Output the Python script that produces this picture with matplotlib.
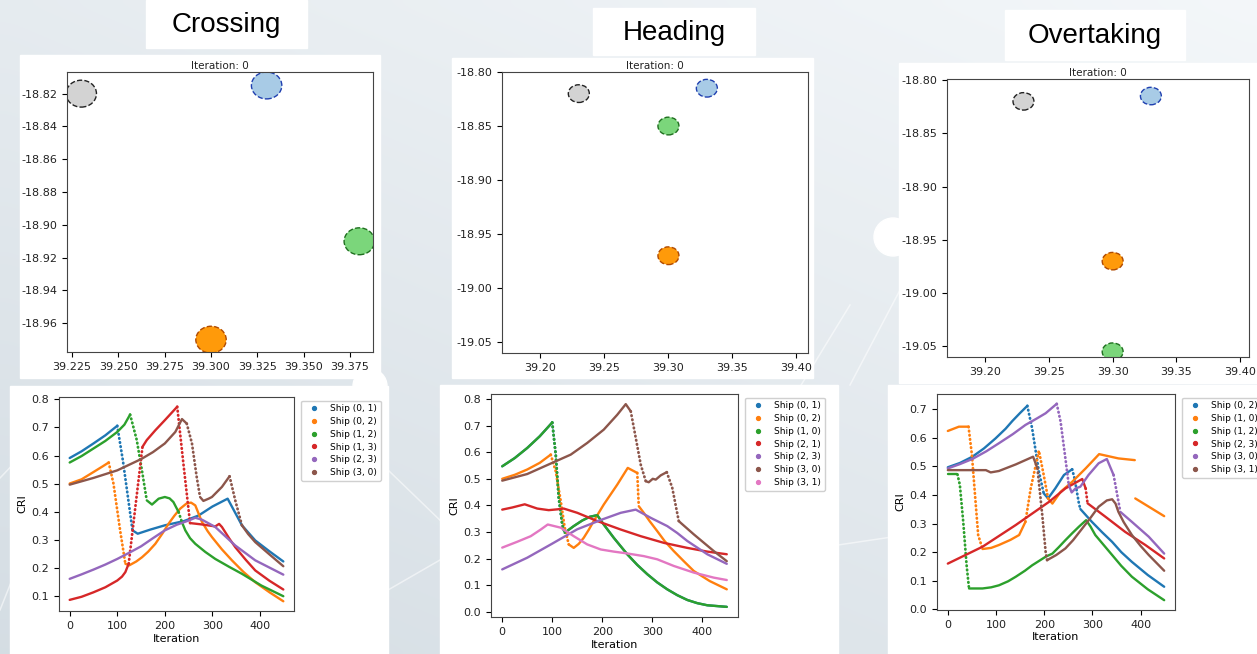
import numpy as np
import matplotlib.pyplot as plt
from matplotlib.patches import Circle, Rectangle
from matplotlib.lines import Line2D

# --- ship positions at iteration 0 (blue, orange, green, grey) ---
cross_lon = [39.33, 39.30, 39.38, 39.23]
cross_lat = [-18.815, -18.97, -18.91, -18.82]
head_lon = [39.33, 39.30, 39.30, 39.23]
head_lat = [-18.815, -18.97, -18.85, -18.82]
over_lon = [39.33, 39.30, 39.30, 39.23]
over_lat = [-18.815, -18.97, -19.055, -18.82]

cross_xticks = [39.225, 39.25, 39.275, 39.30, 39.325, 39.35, 39.375]
cross_yticks = [-18.82, -18.84, -18.86, -18.88, -18.90, -18.92, -18.94, -18.96]
wide_xticks = [39.20, 39.25, 39.30, 39.35, 39.40]
wide_yticks = [-18.80, -18.85, -18.90, -18.95, -19.00, -19.05]

# --- CRI per ship pair: Crossing ---
cross_labels = ['Ship (0, 1)', 'Ship (0, 2)', 'Ship (1, 2)', 'Ship (1, 3)', 'Ship (2, 3)', 'Ship (3, 0)']
cross_01_it = [0, 25, 50, 75, 100, 112, 125, 132, 143, 170, 200, 240, 271, 300, 332, 362, 390, 420, 449]
cross_01_cri = [0.591, 0.615, 0.643, 0.672, 0.706, 0.58, 0.42, 0.333, 0.321, 0.336, 0.351, 0.366, 0.386, 0.418, 0.446,
                0.351, 0.297, 0.258, 0.222]
cross_02_it = [0, 25, 50, 70, 82, 92, 106, 117, 125, 140, 152, 165, 180, 195, 208, 220, 232, 245, 255, 264, 278, 290,
               299, 320, 341, 365, 390, 420, 449]
cross_02_cri = [0.50, 0.515, 0.541, 0.562, 0.575, 0.50, 0.333, 0.214, 0.208, 0.222, 0.237, 0.257, 0.285, 0.322, 0.357,
                0.385, 0.41, 0.428, 0.432, 0.422, 0.363, 0.33, 0.309, 0.265, 0.226, 0.185, 0.148, 0.112, 0.080]
cross_12_it = [0, 25, 50, 75, 100, 115, 127, 141, 153, 162, 173, 187, 200, 210, 218, 229, 236, 243, 253, 264, 285, 306,
               335, 362, 403, 449]
cross_12_cri = [0.575, 0.598, 0.625, 0.652, 0.684, 0.71, 0.746, 0.655, 0.535, 0.44, 0.425, 0.446, 0.452, 0.447, 0.434,
                0.398, 0.362, 0.333, 0.305, 0.285, 0.256, 0.231, 0.203, 0.178, 0.136, 0.098]
cross_13_it = [0, 25, 50, 75, 100, 110, 117, 124, 138, 153, 162, 180, 200, 226, 239, 253, 278, 306, 314, 320, 335, 348,
               370, 390, 420, 449]
cross_13_cri = [0.085, 0.096, 0.112, 0.13, 0.154, 0.168, 0.184, 0.214, 0.416, 0.631, 0.655, 0.69, 0.726, 0.774, 0.571,
                0.359, 0.354, 0.347, 0.356, 0.345, 0.305, 0.273, 0.228, 0.19, 0.153, 0.122]
cross_23_it = [0, 25, 50, 75, 100, 125, 150, 175, 200, 225, 250, 264, 278, 306, 348, 390, 449]
cross_23_cri = [0.16, 0.176, 0.193, 0.211, 0.231, 0.253, 0.276, 0.305, 0.333, 0.353, 0.368, 0.378, 0.371, 0.345, 0.279,
                0.226, 0.175]
cross_30_it = [0, 50, 100, 150, 175, 200, 222, 236, 246, 257, 267, 274, 281, 292, 299, 320, 336, 348, 362, 375, 390,
               420, 449]
cross_30_cri = [0.496, 0.52, 0.547, 0.587, 0.612, 0.643, 0.684, 0.73, 0.714, 0.643, 0.523, 0.452, 0.438, 0.446, 0.452,
                0.488, 0.526, 0.44, 0.351, 0.32, 0.291, 0.247, 0.205]

# --- CRI per ship pair: Heading ---
head_labels = ['Ship (0, 1)', 'Ship (0, 2)', 'Ship (1, 0)', 'Ship (2, 1)', 'Ship (2, 3)', 'Ship (3, 0)', 'Ship (3, 1)']
head_10_it = [0, 25, 50, 75, 100, 107, 113, 120, 125, 143, 160, 175, 190, 203, 223, 250, 270, 290, 310, 330, 350, 370,
              390, 410, 449]
head_10_cri = [0.547, 0.578, 0.616, 0.66, 0.712, 0.591, 0.428, 0.328, 0.297, 0.322, 0.343, 0.357, 0.363, 0.328, 0.278,
               0.216, 0.176, 0.141, 0.11, 0.084, 0.062, 0.044, 0.032, 0.024, 0.018]
# pair (0, 1) runs underneath pair (1, 0)
head_01_it = head_10_it
head_01_cri = head_10_cri
head_02_it = [0, 25, 50, 75, 97, 107, 117, 125, 133, 143, 153, 163, 173, 183, 203, 230, 251, 270, 273, 283, 295, 310,
              325, 343, 363, 383, 415, 449]
head_02_cri = [0.50, 0.515, 0.535, 0.56, 0.591, 0.528, 0.416, 0.316, 0.253, 0.24, 0.255, 0.278, 0.308, 0.341, 0.403,
               0.478, 0.541, 0.522, 0.397, 0.372, 0.34, 0.303, 0.265, 0.228, 0.19, 0.153, 0.115, 0.084]
head_21_it = [0, 20, 45, 70, 93, 110, 123, 150, 190, 237, 277, 323, 370, 410, 449]
head_21_cri = [0.384, 0.392, 0.404, 0.388, 0.382, 0.385, 0.388, 0.372, 0.341, 0.309, 0.284, 0.259, 0.24, 0.226, 0.216]
head_23_it = [0, 50, 100, 150, 200, 237, 267, 297, 330, 350, 370, 410, 449]
head_23_cri = [0.159, 0.203, 0.256, 0.31, 0.347, 0.372, 0.384, 0.353, 0.322, 0.296, 0.266, 0.216, 0.18]
head_30_it = [0, 50, 100, 137, 170, 203, 230, 247, 257, 267, 277, 287, 293, 301, 307, 317, 329, 340, 353, 357, 383,
              423, 449]
head_30_cri = [0.493, 0.518, 0.56, 0.591, 0.635, 0.685, 0.741, 0.781, 0.754, 0.654, 0.553, 0.491, 0.487, 0.5, 0.497,
               0.513, 0.525, 0.466, 0.341, 0.334, 0.291, 0.228, 0.19]
head_31_it = [0, 30, 57, 77, 91, 117, 143, 170, 197, 223, 250, 283, 310, 343, 383, 423, 449]
head_31_cri = [0.241, 0.263, 0.284, 0.309, 0.328, 0.316, 0.284, 0.253, 0.234, 0.226, 0.219, 0.209, 0.197, 0.172,
               0.147, 0.128, 0.119]

# --- CRI per ship pair: Overtaking ---
over_labels = ['Ship (0, 2)', 'Ship (1, 0)', 'Ship (1, 2)', 'Ship (2, 3)', 'Ship (3, 0)', 'Ship (3, 1)']
over_02_it = [0, 25, 51, 75, 99, 120, 134, 150, 165, 175, 189, 199, 208, 223, 241, 258, 263, 272, 275, 299, 320, 341,
              360, 382, 415, 449]
over_02_cri = [0.497, 0.512, 0.534, 0.563, 0.598, 0.632, 0.659, 0.687, 0.712, 0.633, 0.482, 0.406, 0.388, 0.423, 0.47,
               0.49, 0.458, 0.371, 0.351, 0.306, 0.27, 0.236, 0.2, 0.166, 0.12, 0.079]
over_10_it = [0, 23, 43, 50, 57, 63, 72, 90, 106, 130, 148, 161, 172, 189, 199, 208, 217, 234, 258, 286, 314, 354, 388,
              388, 389, 449]
over_10_cri = [0.624, 0.639, 0.639, 0.54, 0.388, 0.26, 0.211, 0.215, 0.225, 0.243, 0.26, 0.306, 0.423, 0.555, 0.47,
               0.388, 0.37, 0.411, 0.446, 0.493, 0.543, 0.528, 0.522, np.nan, 0.388, 0.326]
over_12_it = [0, 20, 25, 32, 39, 44, 72, 90, 106, 125, 141, 160, 175, 203, 217, 230, 244, 258, 272, 287, 296, 306, 320,
              341, 360, 382, 415, 449]
over_12_cri = [0.472, 0.472, 0.435, 0.306, 0.154, 0.073, 0.073, 0.077, 0.084, 0.098, 0.114, 0.135, 0.154, 0.184, 0.195,
               0.217, 0.242, 0.266, 0.289, 0.312, 0.29, 0.26, 0.232, 0.19, 0.152, 0.114, 0.07, 0.032]
over_23_it = [0, 72, 141, 210, 244, 279, 286, 290, 327, 368, 410, 449]
over_23_cri = [0.16, 0.219, 0.295, 0.376, 0.423, 0.456, 0.423, 0.371, 0.324, 0.271, 0.225, 0.178]
over_30_it = [0, 25, 51, 80, 106, 135, 161, 185, 203, 226, 234, 244, 251, 257, 265, 275, 292, 313, 330, 344, 358, 382,
              417, 449]
over_30_cri = [0.493, 0.508, 0.526, 0.553, 0.581, 0.613, 0.645, 0.668, 0.686, 0.719, 0.657, 0.528, 0.435, 0.409, 0.423,
               0.429, 0.47, 0.511, 0.526, 0.47, 0.341, 0.306, 0.254, 0.195]
over_31_it = [0, 79, 89, 106, 141, 177, 186, 196, 203, 206, 225, 244, 260, 279, 296, 313, 330, 341, 348, 354, 365, 382,
              400, 417, 449]
over_31_cri = [0.487, 0.487, 0.479, 0.484, 0.507, 0.534, 0.493, 0.33, 0.201, 0.172, 0.19, 0.213, 0.242, 0.283, 0.32,
               0.359, 0.381, 0.385, 0.37, 0.341, 0.305, 0.26, 0.222, 0.19, 0.135]

ship_face = ['#a8cbe6', '#ff9a0a', '#7bd67b', '#d3d3d3']
ship_edge = ['#2040b0', '#b04a00', '#1f6f1f', '#222222']
ship_radius = 0.0082
pair_colors = plt.rcParams['axes.prop_cycle'].by_key()['color']

W, H = 1257, 654
fig = plt.figure(figsize=(W / 100, H / 100), dpi=100)


def px_rect(x0, y0, x1, y1):
    # pixel box measured from the top-left corner -> figure fraction
    return [x0 / W, 1 - y1 / H, (x1 - x0) / W, (y1 - y0) / H]


# --- slide background ---
bg = fig.add_axes([0, 0, 1, 1], zorder=-10)
bg.set_xlim(0, W)
bg.set_ylim(H, 0)
bg.axis('off')
gx, gy = np.meshgrid(np.linspace(0, 1, 64), np.linspace(0, 1, 64))
shade = 0.55 * gy + 0.45 * (1 - gx)
light = np.array([0.955, 0.968, 0.978])
dark = np.array([0.835, 0.868, 0.893])
bg.imshow(light + shade[..., None] * (dark - light), extent=(0, W, H, 0),
          aspect='auto', interpolation='bicubic')
for xs, ys in [([0, 22], [478, 455]), ([388, 445], [470, 525]), ([795, 850], [395, 305]),
               ([838, 892], [545, 537]), ([850, 900], [385, 290]), ([388, 440], [590, 560]),
               ([1180, 1257], [395, 420]), ([0, 20], [610, 560])]:
    bg.plot(xs, ys, color='white', lw=1.1, alpha=0.55)
bg.add_patch(Circle((893, 237), 19, color='white'))
bg.add_patch(Circle((370, 386), 17, color='white'))

# white figure panels
for x0, y0, x1, y1 in [(20, 55, 380, 378), (452, 58, 813, 378), (899, 63, 1257, 383),
                       (10, 386, 388, 654), (440, 385, 838, 654), (888, 385, 1257, 654)]:
    bg.add_patch(Rectangle((x0, y0), x1 - x0, y1 - y0, color='white'))

# scenario captions
for (x0, y0, x1, y1), name in [((146, 0, 307, 48), 'Crossing'),
                               ((593, 8, 755, 55), 'Heading'),
                               ((1005, 10, 1185, 60), 'Overtaking')]:
    bg.add_patch(Rectangle((x0, y0), x1 - x0, y1 - y0, color='white'))
    bg.text((x0 + x1) / 2, (y0 + y1) / 2 + 1, name, ha='center', va='center',
            fontsize=20, family='Liberation Sans', color='black')


def draw_ships(rect, lon, lat, xlim, ylim, xticks, yticks):
    ax = fig.add_axes(px_rect(*rect))
    for x, y, face, edge in zip(lon, lat, ship_face, ship_edge):
        ax.add_patch(Circle((x, y), ship_radius, facecolor=face, edgecolor=edge,
                            ls='--', lw=1.0))
    ax.set_xlim(xlim)
    ax.set_ylim(ylim)
    ax.set_xticks(xticks)
    ax.set_yticks(yticks)
    ax.set_xticklabels([f'{t:.3f}' if len(xticks) > 5 else f'{t:.2f}' for t in xticks])
    ax.set_yticklabels([f'{t:.2f}' for t in yticks])
    ax.tick_params(labelsize=8, labelcolor='#222222', length=3.5, width=0.8)
    ax.set_title('Iteration: 0', fontsize=7.5, pad=2.5, color='#222222')
    for s in ax.spines.values():
        s.set_color('#444444')
    return ax


def draw_cri(ax, it, cri, color, steep=0.005):
    # solid where the curve moves slowly, dotted across the fast jumps
    it = np.asarray(it, float)
    cri = np.asarray(cri, float)
    flags = []
    for i in range(len(it) - 1):
        if np.isnan(cri[i]) or np.isnan(cri[i + 1]):
            flags.append(None)
        else:
            dx = max(it[i + 1] - it[i], 1e-9)
            flags.append(abs(cri[i + 1] - cri[i]) / dx > steep)
    i = 0
    while i < len(flags):
        if flags[i] is None:
            i += 1
            continue
        j = i
        while j + 1 < len(flags) and flags[j + 1] == flags[i]:
            j += 1
        xs, ys = it[i:j + 2], cri[i:j + 2]
        if flags[i]:
            ax.plot(xs, ys, color=color, lw=2.0, ls=(0, (0.2, 1.3)),
                    dash_capstyle='round')
        else:
            ax.plot(xs, ys, color=color, lw=1.7, solid_capstyle='round',
                    solid_joinstyle='round')
        i = j + 1


def cri_panel(rect, series, labels):
    ax = fig.add_axes(px_rect(*rect))
    for (it, cri), color in zip(series, pair_colors):
        draw_cri(ax, it, cri, color)
    ax.set_xlabel('Iteration', fontsize=8, labelpad=2)
    ax.set_ylabel('CRI', fontsize=8, labelpad=3)
    ax.tick_params(labelsize=8, labelcolor='#222222', length=3.5, width=0.8)
    for s in ax.spines.values():
        s.set_color('#444444')
    handles = [Line2D([], [], ls='', marker='o', ms=2.8, color=c)
               for c in pair_colors[:len(labels)]]
    ax.legend(handles, labels, loc='upper left', bbox_to_anchor=(1.015, 1.0),
              fontsize=6.5, labelspacing=0.42, framealpha=1, edgecolor='#d0d0d0',
              borderaxespad=0.4)
    return ax


draw_ships((67, 72, 373, 352), cross_lon, cross_lat, (39.2223, 39.3874),
           (-18.9775, -18.8068), cross_xticks, cross_yticks)
draw_ships((502, 72, 808, 353), head_lon, head_lat, (39.17, 39.409),
           (-19.06, -18.80), wide_xticks, wide_yticks)
draw_ships((947, 79, 1249, 357), over_lon, over_lat, (39.17, 39.407),
           (-19.06, -18.799), wide_xticks, wide_yticks)

cri_panel((59, 397, 294, 611),
          [(cross_01_it, cross_01_cri), (cross_02_it, cross_02_cri), (cross_12_it, cross_12_cri),
           (cross_13_it, cross_13_cri), (cross_23_it, cross_23_cri), (cross_30_it, cross_30_cri)],
          cross_labels)
cri_panel((491, 394, 738, 617),
          [(head_01_it, head_01_cri), (head_02_it, head_02_cri), (head_10_it, head_10_cri),
           (head_21_it, head_21_cri), (head_23_it, head_23_cri), (head_30_it, head_30_cri),
           (head_31_it, head_31_cri)],
          head_labels)
cri_panel((937, 394, 1175, 610),
          [(over_02_it, over_02_cri), (over_10_it, over_10_cri), (over_12_it, over_12_cri),
           (over_23_it, over_23_cri), (over_30_it, over_30_cri), (over_31_it, over_31_cri)],
          over_labels)

fig.savefig('out.png', dpi=100)
